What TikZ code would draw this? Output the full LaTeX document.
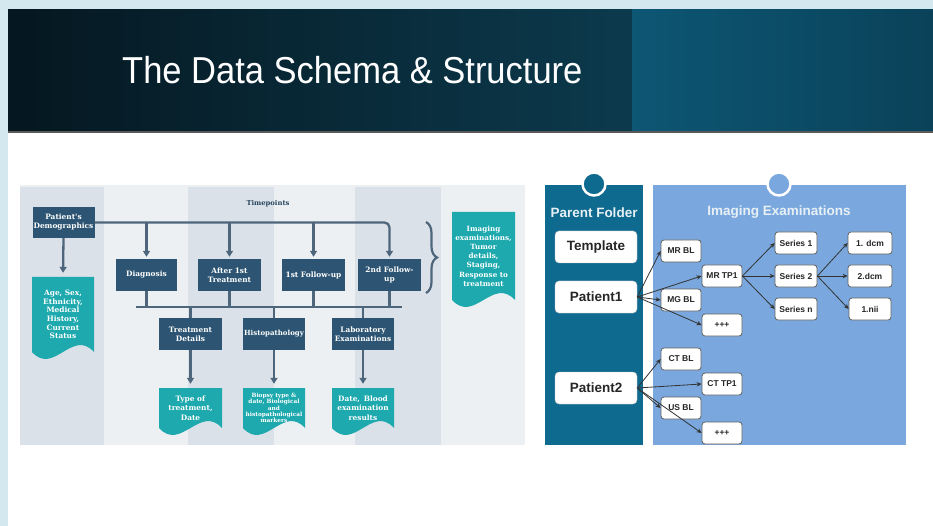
\documentclass[tikz,border=0pt]{standalone}
\usepackage{fontspec}
\setmainfont{Liberation Sans}
\newfontfamily\titlefont[FakeStretch=0.92]{Liberation Sans}
\newfontfamily\serifb{DejaVu Serif}
\usetikzlibrary{arrows.meta,decorations.pathreplacing,calc}
\definecolor{bgblue}{HTML}{D4E9EF}
\definecolor{navy}{HTML}{2D5573}
\definecolor{tealc}{HTML}{1DA9AE}
\definecolor{lineg}{HTML}{4D667C}
\definecolor{bandd}{HTML}{DAE1E8}
\definecolor{bandl}{HTML}{EDF0F3}
\definecolor{pfold}{HTML}{0E6A8F}
\definecolor{pimg}{HTML}{7AA8DE}
\definecolor{tdark}{HTML}{051720}
\definecolor{tmid}{HTML}{0C3A4D}
\definecolor{tlight}{HTML}{0D5674}
\definecolor{tright}{HTML}{0A4259}
\newcommand\tealdoc[7]{%
  \pgfmathsetmacro\dw{#4-#2}%
  \fill[tealc] (#2,#3) -- (#4,#3) -- (#4,#5) .. controls (#4-0.35*\dw,#5-24) and (#2+0.35*\dw,#5+24) .. (#2,#5) -- cycle;
  \node[doctext, font={\serifb\bfseries#7}, minimum width={\dw*1pt}, minimum height={(#5-#3)*1pt}] (#1) at ({(#2+#4)/2},{(#3+#5)/2}) {#6};
}
\begin{document}
\begin{tikzpicture}[x=1pt,y=-1pt,
  navybox/.style={fill=navy, text=white, font=\serifb\bfseries\fontsize{7.4}{9}\selectfont, align=center, inner sep=0pt, minimum height=32pt},
  doctext/.style={text=white, align=center, inner sep=0pt},
  conn/.style={draw=lineg, line width=2.3pt},
  arr/.style={conn, -{Triangle[length=6pt,width=7pt]}, shorten >=2pt},
  bigbox/.style={draw=gray!50, fill=white, rounded corners=4pt, minimum width=82pt, minimum height=32pt, inner sep=0pt, font=\bfseries\fontsize{13.5}{15}\selectfont, text=black!85},
  smallbox/.style={draw=gray!75!black, line width=0.8pt, fill=white, rounded corners=3pt, minimum width=40pt, minimum height=22pt, inner sep=0pt, font=\bfseries\fontsize{8.5}{10}\selectfont, text=black!85},
  thinarr/.style={draw=black!80, line width=0.8pt, -{Stealth[length=5pt,width=4.5pt]}},
  paneltitle/.style={font=\bfseries\fontsize{13.5}{16}\selectfont, text=white!90!pfold}
]
\useasboundingbox (0,0) rectangle (933,526);
% slide background
\fill[bgblue] (0,0) rectangle (933,526);
\fill[white] (8,10) rectangle (933,526);
\shade[left color=tdark, right color=tmid] (8,10) rectangle (632,133);
\shade[left color=tlight, right color=tright] (632,10) rectangle (933,133);
\fill[gray!70!black] (8,131) rectangle (933,133);
\node[anchor=base west, text=white, font=\titlefont\fontsize{37.5}{40}\selectfont, inner sep=0pt] (title) at (122,84) {The Data Schema \& Structure};

% ---------- left diagram ----------
\fill[bandl] (20,185) rectangle (525,445);
\foreach \a/\b in {20/104,188/274,355/441} \fill[bandd] (\a,187) rectangle (\b,445);
\node[font=\serifb\bfseries\fontsize{6.8}{8}\selectfont, text=navy!80!black] (tp) at (268,204) {Timepoints};

\node[navybox, minimum width=62pt, minimum height=31pt] (demo) at (63.5,222.5) {Patient's\\Demographics};
\node[navybox, minimum width=61pt] (diag) at (146.5,275) {Diagnosis};
\node[navybox, minimum width=63pt] (after) at (229.5,275) {After 1st\\Treatment};
\node[navybox, minimum width=63pt] (f1) at (313.5,275) {1st Follow-up};
\node[navybox, minimum width=63pt] (f2) at (389.5,275) {2nd Follow-\\up};
\node[navybox, minimum width=63pt] (treat) at (190.5,334) {Treatment\\Details};
\node[navybox, minimum width=62pt, font=\serifb\bfseries\fontsize{7}{9}\selectfont] (histo) at (274,334) {Histopathology};
\node[navybox, minimum width=62pt] (lab) at (363,334) {Laboratory\\Examinations};

\tealdoc{age}{32}{277}{94}{352}{Age, Sex,\\Ethnicity,\\Medical\\History,\\Current\\Status}{\fontsize{7.4}{8.7}\selectfont}
\tealdoc{imag}{452}{212}{515}{300}{Imaging\\examinations,\\Tumor\\details,\\Staging,\\Response to\\treatment}{\fontsize{7.2}{9.2}\selectfont}
\tealdoc{ttype}{159}{388}{222}{428}{Type of\\treatment,\\Date}{\fontsize{7.4}{9.3}\selectfont}
\tealdoc{biopsy}{243}{388}{305}{428}{Biopsy type \&\\date, Biological\\and\\histopathological\\markers}{\fontsize{5.8}{6.3}\selectfont}
\tealdoc{blood}{332}{388}{394}{428}{Date,\enspace Blood\\examination\\results}{\fontsize{7.4}{9.3}\selectfont}

\draw[arr, rounded corners=5pt] (demo.east) -| (f2.north);
\foreach \n in {diag,after,f1} \draw[arr] (\n.north |- demo.east) -- (\n.north);
\draw[arr, shorten >=4pt] (demo.south) -- (age.north);
\coordinate (busL) at (136,307);
\coordinate (busR) at (402,307);
\draw[conn] (busL) -- (busR);
\foreach \n in {diag,after,f1,f2} \draw[conn] (\n.south) -- (\n.south |- busL);
\foreach \n in {treat,histo,lab} \draw[conn] (\n.north |- busL) -- (\n.north);
\draw[arr, shorten >=4pt] (treat.south) -- (ttype.north);
\draw[arr, shorten >=4pt] (histo.south) -- (biopsy.north);
\draw[arr, shorten >=4pt] (lab.south) -- (blood.north);
\coordinate (braceT) at (426,222);
\coordinate (braceB) at (426,293);
\draw[draw=lineg, line width=2.2pt, decorate, decoration={brace, amplitude=11pt, aspect=0.5}] (braceT) -- (braceB);

% ---------- right diagram ----------
\fill[pfold] (545,185) rectangle (643,445);
\fill[pimg] (653,185) rectangle (906,445);
\draw[white, line width=2.5pt, fill=pfold] (594,184) circle (11.5pt);
\draw[white, line width=2.5pt, fill=pimg] (779,184) circle (11.5pt);
\node[paneltitle] (pft) at (594,212.5) {Parent Folder};
\node[paneltitle] (iet) at (779,212.5) {Imaging Examinations};

\node[bigbox] (template) at (596,247) {Template};
\node[bigbox] (p1) at (596,297) {Patient1};
\node[bigbox] (p2) at (596,388) {Patient2};

\node[smallbox] (mrbl) at (681,251) {MR BL};
\node[smallbox] (mrtp) at (722,276) {MR TP1};
\node[smallbox] (mgbl) at (681,300) {MG BL};
\node[smallbox] (pp1) at (722,325) {+++};
\node[smallbox, minimum width=42pt] (s1) at (796,243) {Series 1};
\node[smallbox, minimum width=42pt] (s2) at (796,276) {Series 2};
\node[smallbox, minimum width=42pt] (sn) at (796,309) {Series n};
\node[smallbox, minimum width=44pt] (d1) at (870,243) {1. dcm};
\node[smallbox, minimum width=44pt] (d2) at (870,276) {2.dcm};
\node[smallbox, minimum width=42pt] (nii) at (870,309) {1.nii};
\node[smallbox] (ctbl) at (681,359) {CT BL};
\node[smallbox] (cttp) at (722,384) {CT TP1};
\node[smallbox] (usbl) at (681,408) {US BL};
\node[smallbox] (pp2) at (722,433) {+++};

\foreach \t in {mrbl,mrtp,mgbl,pp1} \draw[thinarr] (p1.east) -- (\t.west);
\foreach \t in {ctbl,cttp,usbl,pp2} \draw[thinarr] (p2.east) -- (\t.west);
\foreach \t in {s1,s2,sn} \draw[thinarr] (mrtp.east) -- (\t.west);
\foreach \t in {d1,d2,nii} \draw[thinarr] (s2.east) -- (\t.west);
\end{tikzpicture}
\end{document}
